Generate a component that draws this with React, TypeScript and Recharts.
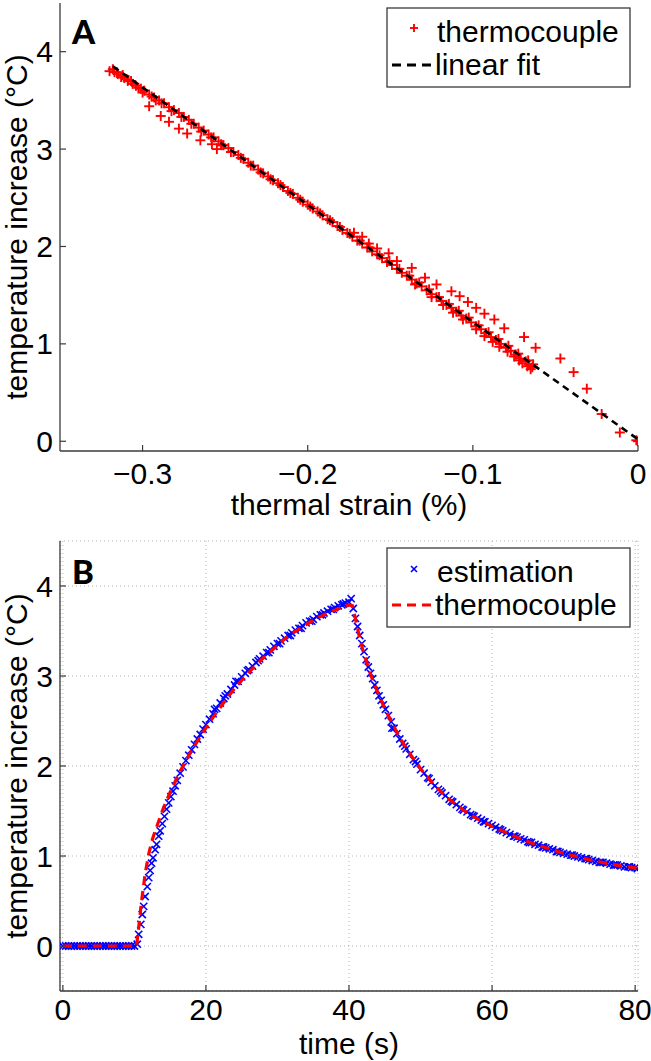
import React from 'react';
import { ScatterChart, Scatter, XAxis, YAxis, CartesianGrid, Legend } from 'recharts';

const FONT = '"Liberation Sans", Arial, Helvetica, sans-serif';
const AXIS = '#3a3a3a';
const FS = 30;

// ---------- Panel A data ----------
const strainTicksA = [-0.3, -0.2, -0.1, 0];
const tempTicksA = [0, 1, 2, 3, 4];
const tcStrainA = [
  -0.320, -0.317, -0.315, -0.313, -0.311, -0.309, -0.306, -0.304, -0.301, -0.299,
  -0.296, -0.293, -0.290, -0.287, -0.284, -0.281, -0.278, -0.275, -0.272, -0.269,
  -0.266, -0.263, -0.260, -0.257, -0.254, -0.251, -0.248, -0.245, -0.242, -0.239,
  -0.236, -0.233, -0.230, -0.227, -0.224, -0.221, -0.218, -0.215, -0.212, -0.209,
  -0.206, -0.203, -0.200, -0.197, -0.194, -0.191, -0.188, -0.185, -0.182, -0.179,
  -0.176, -0.173, -0.170, -0.167, -0.164, -0.161, -0.158, -0.155, -0.152, -0.149,
  -0.146, -0.143, -0.140, -0.137, -0.134, -0.131, -0.128, -0.125, -0.122, -0.119,
  -0.116, -0.113, -0.110, -0.107, -0.104, -0.101, -0.098, -0.095, -0.092, -0.089,
  -0.086, -0.083, -0.080, -0.077, -0.074, -0.071, -0.068, -0.066, -0.064,
  -0.098, -0.093, -0.088, -0.084, -0.079, -0.075, -0.072, -0.070, -0.067, -0.065,
  -0.106, -0.112, -0.118, -0.125, -0.135,
  -0.318, -0.312, -0.307, -0.300, -0.292,
  -0.296, -0.289, -0.284, -0.278, -0.273, -0.265, -0.258, -0.255, -0.252,
  -0.172, -0.167, -0.163, -0.158, -0.151, -0.146, -0.137, -0.129, -0.122, -0.113,
  -0.108, -0.103, -0.098, -0.093, -0.087, -0.081, -0.069, -0.062, -0.047, -0.039,
  -0.031, -0.022, -0.011, 0.000, -0.001,
  -0.3155, -0.3085, -0.3025, -0.2945, -0.2885, -0.2825, -0.2765, -0.2705, -0.2645, -0.2585,
  -0.2525, -0.2465, -0.2405, -0.2345, -0.2285, -0.2225, -0.2165, -0.2105, -0.2045, -0.1985,
  -0.1925, -0.1865, -0.1805, -0.1745, -0.1685, -0.1625, -0.1565, -0.1505, -0.1445, -0.1385,
  -0.1325, -0.1265, -0.1205, -0.1145, -0.1085, -0.1025, -0.0965, -0.0905, -0.0845, -0.0785,
  -0.0725, -0.0665, -0.0635,
];
const tcTempA = [
  3.80, 3.79, 3.77, 3.74, 3.73, 3.70, 3.67, 3.65, 3.62, 3.60,
  3.56, 3.53, 3.50, 3.47, 3.43, 3.40, 3.37, 3.33, 3.30, 3.26,
  3.22, 3.19, 3.15, 3.12, 3.08, 3.04, 3.01, 2.97, 2.94, 2.90,
  2.86, 2.83, 2.79, 2.75, 2.72, 2.68, 2.65, 2.61, 2.57, 2.54,
  2.50, 2.46, 2.43, 2.39, 2.36, 2.32, 2.28, 2.25, 2.21, 2.17,
  2.14, 2.10, 2.06, 2.03, 1.99, 1.95, 1.92, 1.88, 1.84, 1.81,
  1.77, 1.73, 1.70, 1.66, 1.62, 1.59, 1.55, 1.51, 1.48, 1.44,
  1.40, 1.37, 1.33, 1.29, 1.26, 1.22, 1.18, 1.15, 1.11, 1.07,
  1.04, 1.00, 0.96, 0.93, 0.89, 0.85, 0.82, 0.79, 0.76,
  1.15, 1.08, 1.02, 0.97, 0.92, 0.87, 0.83, 0.80, 0.77, 0.74,
  1.25, 1.32, 1.40, 1.48, 1.61,
  3.82, 3.76, 3.70, 3.58, 3.50,
  3.44, 3.34, 3.28, 3.21, 3.16, 3.09, 3.05, 3.00, 3.04,
  2.14, 2.10, 2.03, 1.98, 1.93, 1.85, 1.78, 1.68, 1.61, 1.54,
  1.49, 1.43, 1.37, 1.31, 1.25, 1.16, 1.07, 0.96, 0.85, 0.71,
  0.54, 0.28, 0.09, 0.00, 0.01,
  3.79, 3.71, 3.63, 3.54, 3.47, 3.39, 3.33, 3.26, 3.18, 3.12,
  3.05, 2.97, 2.91, 2.83, 2.76, 2.69, 2.63, 2.55, 2.48, 2.41,
  2.34, 2.27, 2.20, 2.13, 2.06, 1.99, 1.91, 1.85, 1.77, 1.70,
  1.63, 1.56, 1.48, 1.41, 1.34, 1.27, 1.19, 1.12, 1.05, 0.98,
  0.90, 0.83, 0.79,
];
const fitStrainA = [-0.318, 0];
const fitTempA = [3.85, 0.02];

// ---------- Panel B data ----------
const timeTicksB = [0, 20, 40, 60, 80];
const tempTicksB = [0, 1, 2, 3, 4];
const estTimeB = [
  0, 0.4, 0.8, 1.2, 1.6, 2.0, 2.4, 2.8, 3.2, 3.6, 4.0, 4.4, 4.8, 5.2, 5.6, 6.0, 6.4, 6.8, 7.2, 7.6,
  8.0, 8.4, 8.8, 9.2, 9.6, 10.0,
  10.4, 10.6, 10.9, 11.1, 11.3, 11.5, 11.8, 12.0, 12.2, 12.4, 12.6, 12.9, 13.1, 13.4, 13.6, 13.9,
  14.2, 14.5, 14.8, 15.1, 15.4, 15.7, 16.0, 16.4, 16.8, 17.2, 17.6, 18.0, 18.4, 18.8, 19.2, 19.6,
  20.0, 20.5, 21.0, 21.5, 22.0, 22.5, 23.0, 23.5, 24.0, 24.5, 25.0, 25.5, 26.0, 26.5, 27.0, 27.5,
  28.0, 28.5, 29.0, 29.5, 30.0, 30.5, 31.0, 31.5, 32.0, 32.5, 33.0, 33.5, 34.0, 34.5, 35.0, 35.5,
  36.0, 36.5, 37.0, 37.5, 38.0, 38.5, 39.0, 39.5, 40.0, 40.3,
  40.6, 40.9, 41.2, 41.5, 41.8, 42.1, 42.4, 42.7, 43.0, 43.3, 43.6, 43.9, 44.2, 44.5, 44.8, 45.1,
  45.5, 45.9, 46.3, 46.7, 47.1, 47.5, 48.0, 48.5, 49.0, 49.5, 50.0, 50.5, 51.0, 51.5, 52.0, 52.5,
  53.0, 53.5, 54.0, 54.5, 55.0, 55.5, 56.0, 56.5, 57.0, 57.5, 58.0, 58.5, 59.0, 59.5, 60.0, 60.5,
  61.0, 61.5, 62.0, 62.5, 63.0, 63.5, 64.0, 64.5, 65.0, 65.5, 66.0, 66.5, 67.0, 67.5, 68.0, 68.5,
  69.0, 69.5, 70.0, 70.5, 71.0, 71.5, 72.0, 72.5, 73.0, 73.5, 74.0, 74.5, 75.0, 75.5, 76.0, 76.5,
  77.0, 77.5, 78.0, 78.5, 79.0, 79.5, 80.0, 80.3,
  21.2, 22.7, 24.2, 25.8, 27.3, 28.8, 30.3, 31.8, 33.3, 34.8, 36.3, 37.8, 39.2,
  46.0, 47.8, 49.3, 51.2, 52.8, 54.3, 55.8, 57.3, 58.8, 61.2, 63.2, 65.2, 67.2, 69.2, 71.2, 73.2, 75.2, 77.2, 79.2,
];
const estTempB = [
  0, 0, 0, 0, 0, 0, 0, 0, 0, 0, 0, 0, 0, 0, 0, 0, 0, 0, 0, 0,
  0, 0, 0, 0, 0, 0,
  0.02, 0.13, 0.24, 0.35, 0.44, 0.55, 0.66, 0.76, 0.84, 0.92, 0.98, 1.07, 1.13, 1.22, 1.28, 1.36,
  1.44, 1.52, 1.59, 1.66, 1.72, 1.78, 1.84, 1.92, 1.99, 2.06, 2.12, 2.18, 2.24, 2.30, 2.35, 2.41,
  2.46, 2.52, 2.58, 2.64, 2.70, 2.75, 2.80, 2.85, 2.90, 2.94, 2.99, 3.03, 3.07, 3.11, 3.15, 3.19,
  3.22, 3.26, 3.29, 3.33, 3.36, 3.39, 3.42, 3.45, 3.48, 3.51, 3.53, 3.56, 3.59, 3.61, 3.63, 3.66,
  3.68, 3.70, 3.72, 3.74, 3.76, 3.78, 3.79, 3.81, 3.82, 3.86,
  3.75, 3.64, 3.55, 3.45, 3.36, 3.27, 3.18, 3.10, 3.03, 2.97, 2.90, 2.84, 2.78, 2.73, 2.68, 2.63,
  2.56, 2.49, 2.42, 2.36, 2.30, 2.25, 2.19, 2.13, 2.07, 2.02, 1.96, 1.92, 1.87, 1.82, 1.78, 1.74,
  1.70, 1.67, 1.63, 1.60, 1.57, 1.54, 1.51, 1.49, 1.46, 1.44, 1.42, 1.40, 1.38, 1.36, 1.34, 1.32,
  1.30, 1.28, 1.26, 1.24, 1.22, 1.21, 1.19, 1.18, 1.16, 1.15, 1.13, 1.12, 1.10, 1.09, 1.08, 1.07,
  1.05, 1.04, 1.03, 1.02, 1.01, 1.00, 0.99, 0.98, 0.97, 0.96, 0.95, 0.94, 0.93, 0.93, 0.92, 0.91,
  0.90, 0.90, 0.89, 0.88, 0.88, 0.87, 0.87, 0.86,
  2.63, 2.78, 2.94, 3.06, 3.17, 3.26, 3.36, 3.45, 3.53, 3.61, 3.68, 3.74, 3.80,
  2.42, 2.22, 2.05, 1.86, 1.72, 1.61, 1.52, 1.45, 1.38, 1.29, 1.22, 1.15, 1.10, 1.05, 1.01, 0.97, 0.93, 0.90, 0.88,
];
const tcTimeB = [
  0, 10.3, 10.6, 11.0, 11.5, 12.0, 12.5, 13, 14, 15, 16, 17, 18, 19, 20, 21, 22, 23, 24, 25, 26,
  27, 28, 29, 30, 31, 32, 33, 34, 35, 36, 37, 38, 39, 40, 40.5, 41, 41.5, 42, 43, 44, 45, 46, 47,
  48, 49, 50, 52, 54, 56, 58, 60, 62, 64, 66, 68, 70, 72, 74, 76, 78, 80, 80.4,
];
const tcTempB = [
  0, 0, 0.2, 0.5, 0.8, 1.02, 1.18, 1.3, 1.52, 1.71, 1.88, 2.03, 2.17, 2.3, 2.42, 2.54, 2.65, 2.76, 2.86, 2.95, 3.04,
  3.12, 3.2, 3.27, 3.34, 3.41, 3.47, 3.52, 3.57, 3.62, 3.66, 3.7, 3.73, 3.76, 3.79, 3.78, 3.6, 3.42, 3.27, 3.02, 2.82, 2.64, 2.48, 2.33,
  2.2, 2.08, 1.97, 1.78, 1.63, 1.51, 1.41, 1.33, 1.26, 1.19, 1.13, 1.08, 1.03, 0.99, 0.95, 0.92, 0.89, 0.87, 0.86,
];

const zip = (xs: number[], ys: number[]) => xs.map((x, i) => ({ x, y: ys[i] }));
const dataTcA = zip(tcStrainA, tcTempA);
const dataFitA = zip(fitStrainA, fitTempA);
const dataEstB = zip(estTimeB, estTempB);
const dataTcB = zip(tcTimeB, tcTempB);

// ---------- shapes ----------
const Plus = ({ cx, cy, s = 5 }: any) => (
  <g stroke="#ff0000" strokeWidth={1.9}>
    <line x1={cx - s} x2={cx + s} y1={cy} y2={cy} />
    <line x1={cx} x2={cx} y1={cy - s} y2={cy + s} />
  </g>
);
const Cross = ({ cx, cy, s = 3.6 }: any) => (
  <g stroke="#0000ff" strokeWidth={1.6}>
    <line x1={cx - s} x2={cx + s} y1={cy - s} y2={cy + s} />
    <line x1={cx - s} x2={cx + s} y1={cy + s} y2={cy - s} />
  </g>
);
const NoShape = () => <g />;

const fmtA = (v: number) => (v === 0 ? '0' : (v < 0 ? '\u2212' : '') + String(Math.abs(v)));

const textStyle = { fontFamily: FONT, fontSize: FS, fill: '#000' } as any;

const BottomTick = (fmt: (v: number) => string, dy: number) => (p: any) => (
  <g>
    <line x1={p.x} x2={p.x} y1={p.y} y2={p.y - 6} stroke={AXIS} strokeWidth={1.2} />
    <text x={p.x} y={p.y + dy} textAnchor="middle" {...textStyle}>
      {fmt(p.payload.value)}
    </text>
  </g>
);
const LeftTick = (p: any) => (
  <g>
    <line x1={p.x} x2={p.x + 6} y1={p.y} y2={p.y} stroke={AXIS} strokeWidth={1.2} />
    <text x={p.x - 7} y={p.y} textAnchor="end" dominantBaseline="central" {...textStyle}>
      {String(p.payload.value)}
    </text>
  </g>
);
const TopTick = (p: any) => (
  <line x1={p.x} x2={p.x} y1={p.y} y2={p.y + 6} stroke={AXIS} strokeWidth={1.2} />
);
const RightTick = (p: any) => (
  <line x1={p.x} x2={p.x - 6} y1={p.y} y2={p.y} stroke={AXIS} strokeWidth={1.2} />
);

// titles positioned by baseline offset below the axis line
const xTitle = (text: string, dy: number) => (props: any) => {
  const vb = props.viewBox || {};
  return (
    <text x={vb.x + vb.width / 2} y={vb.y + dy} textAnchor="middle" {...textStyle}>
      {text}
    </text>
  );
};
const yTitle = (text: string) => (props: any) => {
  const vb = props.viewBox || {};
  const cx = 16;
  const cy = vb.y + vb.height / 2;
  return (
    <text x={cx} y={cy} transform={`rotate(-90 ${cx} ${cy})`} textAnchor="middle" dominantBaseline="central" {...textStyle}>
      {text}
    </text>
  );
};

const LegendBox = ({ first, second, firstMarker, lineColor }: any) => (
  <svg width={245} height={81} style={{ display: 'block' }}>
    <rect x={1} y={1} width={243} height={79} fill="#fff" stroke={AXIS} strokeWidth={1.3} />
    {firstMarker}
    <text x={51} y={24} dominantBaseline="central" {...textStyle}>{first}</text>
    <line x1={6} x2={48} y1={58} y2={58} stroke={lineColor} strokeWidth={2.8} strokeDasharray="9 6" />
    <text x={49} y={57} dominantBaseline="central" {...textStyle}>{second}</text>
  </svg>
);

const axisLine = { stroke: AXIS, strokeWidth: 1.3 };

export default function App() {
  return (
    <div style={{ position: 'absolute', left: 0, top: 0, width: 651, height: 1061, background: '#fff' }}>
      {/* Panel A */}
      <div style={{ position: 'absolute', left: 0, top: 0 }}>
        <ScatterChart width={651} height={530} margin={{ top: 3, right: 13, bottom: 0, left: 0 }}>
          <XAxis dataKey="x" type="number" domain={[-0.35, 0]} ticks={strainTicksA} interval={0}
            allowDataOverflow height={79} tickSize={0} tickMargin={0} tickLine={false} axisLine={axisLine}
            tick={BottomTick(fmtA, 33)} label={{ content: xTitle('thermal strain (%)', 64) } as any} />
          <XAxis xAxisId="t" orientation="top" type="number" domain={[-0.35, 0]} ticks={strainTicksA} interval={0}
            allowDataOverflow height={0} tickSize={0} tickMargin={0} tickLine={false} axisLine={axisLine} tick={TopTick} />
          <YAxis dataKey="y" type="number" domain={[-0.1, 4.5]} ticks={tempTicksA} interval={0}
            allowDataOverflow width={60} tickSize={0} tickMargin={0} tickLine={false} axisLine={axisLine}
            tick={LeftTick} label={{ content: yTitle('temperature increase (°C)') } as any} />
          <YAxis yAxisId="r" orientation="right" type="number" domain={[-0.1, 4.5]} ticks={tempTicksA} interval={0}
            allowDataOverflow width={0} tickSize={0} tickMargin={0} tickLine={false} axisLine={axisLine} tick={RightTick} />
          <Scatter name="thermocouple" data={dataTcA} isAnimationActive={false}
            shape={(p: any) => <Plus cx={p.cx} cy={p.cy} />} />
          <Scatter name="linear fit" data={dataFitA} isAnimationActive={false} shape={NoShape}
            line={{ stroke: '#000', strokeWidth: 2.6, strokeDasharray: '7 5' } as any} lineType="joint" />
          <Legend layout="horizontal" verticalAlign="middle" align="center"
            wrapperStyle={{ left: 386, top: 7, width: 245, height: 81 }}
            content={() => (
              <LegendBox first="thermocouple" second="linear fit" lineColor="#000"
                firstMarker={<Plus cx={28} cy={21} s={4} />} />
            )} />
        </ScatterChart>
      </div>

      {/* Panel B */}
      <div style={{ position: 'absolute', left: 0, top: 530 }}>
        <ScatterChart width={651} height={531} margin={{ top: 11, right: 13, bottom: 0, left: 0 }}>
          <CartesianGrid stroke="#b4b4b4" strokeDasharray="1 3" strokeWidth={1} />
          <XAxis dataKey="x" type="number" domain={[-0.4, 80.4]} ticks={timeTicksB} interval={0}
            allowDataOverflow height={70} tickSize={0} tickMargin={0} tickLine={false} axisLine={axisLine}
            tick={BottomTick((v) => String(v), 29)} label={{ content: xTitle('time (s)', 63) } as any} />
          <XAxis xAxisId="t" orientation="top" type="number" domain={[-0.4, 80.4]} ticks={timeTicksB} interval={0}
            allowDataOverflow height={0} tickSize={0} tickMargin={0} tickLine={false} axisLine={axisLine} tick={TopTick} />
          <YAxis dataKey="y" type="number" domain={[-0.5, 4.5]} ticks={tempTicksB} interval={0}
            allowDataOverflow width={60} tickSize={0} tickMargin={0} tickLine={false} axisLine={axisLine}
            tick={LeftTick} label={{ content: yTitle('temperature increase (°C)') } as any} />
          <YAxis yAxisId="r" orientation="right" type="number" domain={[-0.5, 4.5]} ticks={tempTicksB} interval={0}
            allowDataOverflow width={0} tickSize={0} tickMargin={0} tickLine={false} axisLine={axisLine} tick={RightTick} />
          <Scatter name="estimation" data={dataEstB} isAnimationActive={false}
            shape={(p: any) => <Cross cx={p.cx} cy={p.cy} />} />
          <Scatter name="thermocouple" data={dataTcB} isAnimationActive={false} shape={NoShape}
            line={{ stroke: '#ff0000', strokeWidth: 3.2, strokeDasharray: '9 6' } as any} lineType="joint" />
          <Legend layout="horizontal" verticalAlign="middle" align="center"
            wrapperStyle={{ left: 386, top: 17, width: 245, height: 81 }}
            content={() => (
              <LegendBox first="estimation" second="thermocouple" lineColor="#ff0000"
                firstMarker={<Cross cx={28} cy={22} s={3} />} />
            )} />
        </ScatterChart>
      </div>

      {/* panel letters */}
      <svg width={651} height={1061} style={{ position: 'absolute', left: 0, top: 0, pointerEvents: 'none' }}>
        <text x={72} y={44} fontFamily="Lato, 'Open Sans', sans-serif" fontWeight={900} fontSize={33} fill="#000">A</text>
        <text x={72} y={584} fontFamily="Lato, 'Open Sans', sans-serif" fontWeight={900} fontSize={33} fill="#000">B</text>
      </svg>
    </div>
  );
}
